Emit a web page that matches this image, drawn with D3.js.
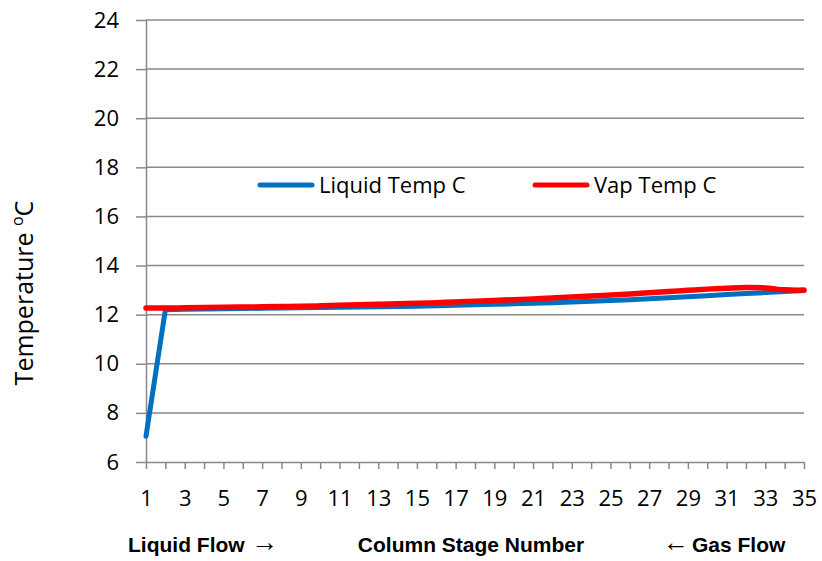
<!DOCTYPE html>
<html>
<head>
<meta charset="utf-8">
<script src="https://cdn.jsdelivr.net/npm/d3@7"></script>
<style>
  html, body { margin: 0; padding: 0; background: #fff; }
  svg { display: block; }
  text { font-family: "Open Sans", "Noto Sans", sans-serif; fill: #000; }
</style>
</head>
<body>
<svg id="chart" width="822" height="561"></svg>
<script>
// Column stage numbers
const stages = d3.range(1, 36);

// Liquid temperature per stage (°C)
const liquidTemp = [
  7.05, 12.2, 12.22, 12.23, 12.24, 12.25, 12.26, 12.27, 12.28, 12.29,
  12.30, 12.31, 12.32, 12.33, 12.34, 12.36, 12.38, 12.40, 12.42, 12.44,
  12.46, 12.49, 12.52, 12.55, 12.58, 12.61, 12.65, 12.69, 12.73, 12.77,
  12.82, 12.86, 12.90, 12.94, 12.98
];

// Vapour temperature per stage (°C)
const vapTemp = [
  12.27, 12.27, 12.28, 12.29, 12.30, 12.31, 12.32, 12.33, 12.34, 12.36,
  12.38, 12.40, 12.42, 12.44, 12.46, 12.49, 12.52, 12.55, 12.58, 12.61,
  12.64, 12.68, 12.72, 12.76, 12.80, 12.84, 12.89, 12.94, 12.99, 13.04,
  13.08, 13.11, 13.09, 13.01, 13.00
];

const yTicks = [6, 8, 10, 12, 14, 16, 18, 20, 22, 24];
const xLabelStages = d3.range(1, 36, 2);

const seriesNames = ["Liquid Temp C", "Vap Temp C"];
const seriesColors = ["#0070C0", "#FF0000"];

const svg = d3.select("#chart");
const plot = { left: 146, right: 804, top: 20, bottom: 462 };

const x = d3.scaleLinear().domain([1, 35]).range([plot.left, plot.right]);
const y = d3.scaleLinear().domain([6, 24]).range([plot.bottom, plot.top]);

const gridColor = "#898989";
const tickFont = '"Open Sans", "Noto Sans", sans-serif';
const narrowBold = '"Liberation Sans Narrow", "Arial Narrow", "Liberation Sans", sans-serif';

// Horizontal gridlines
svg.append("g")
  .selectAll("line")
  .data(yTicks.filter(v => v !== 6))
  .join("line")
  .attr("x1", plot.left).attr("x2", plot.right)
  .attr("y1", d => y(d)).attr("y2", d => y(d))
  .attr("stroke", gridColor).attr("stroke-width", 1.5);

// Y axis
const yAxis = svg.append("g")
  .attr("transform", `translate(${plot.left},0)`)
  .call(d3.axisLeft(y).tickValues(yTicks).tickSize(10).tickPadding(17));
yAxis.select(".domain").attr("stroke", gridColor).attr("stroke-width", 1.5)
  .attr("d", `M0.5,${plot.bottom}V${plot.top}`);
yAxis.selectAll(".tick line").attr("stroke", gridColor).attr("stroke-width", 1.5);
yAxis.selectAll(".tick text")
  .attr("font-size", 22)
  .style("font-family", tickFont);

// X axis: a tick at every stage, labels on odd stages
const xAxis = svg.append("g")
  .attr("transform", `translate(0,${plot.bottom})`)
  .call(d3.axisBottom(x).tickValues(stages).tickSize(7).tickPadding(21)
    .tickFormat(d => (xLabelStages.includes(d) ? d : "")));
xAxis.select(".domain").attr("stroke", gridColor).attr("stroke-width", 1.5)
  .attr("d", `M${plot.left},0.5H${plot.right}`);
xAxis.selectAll(".tick line").attr("stroke", gridColor).attr("stroke-width", 1.5);
xAxis.selectAll(".tick text")
  .attr("font-size", 22)
  .style("font-family", tickFont);

// Series lines
const liquidLine = d3.line()
  .x((d, i) => x(stages[i]))
  .y(d => y(d))
  .curve(d3.curveLinear);

const vapLine = d3.line()
  .x((d, i) => x(stages[i]))
  .y(d => y(d))
  .curve(d3.curveCatmullRom.alpha(0.5));

svg.append("path")
  .datum(liquidTemp)
  .attr("d", liquidLine)
  .attr("fill", "none")
  .attr("stroke", seriesColors[0])
  .attr("stroke-width", 5)
  .attr("stroke-linejoin", "round")
  .attr("stroke-linecap", "round");

svg.append("path")
  .datum(vapTemp)
  .attr("d", vapLine)
  .attr("fill", "none")
  .attr("stroke", seriesColors[1])
  .attr("stroke-width", 5.5)
  .attr("stroke-linejoin", "round")
  .attr("stroke-linecap", "round");

// Legend
const legendItems = [
  { name: seriesNames[0], color: seriesColors[0], x: 260 },
  { name: seriesNames[1], color: seriesColors[1], x: 535 }
];
const lg = svg.append("g").selectAll("g").data(legendItems).join("g")
  .attr("transform", d => `translate(${d.x},185)`);
lg.append("line")
  .attr("x1", 0).attr("x2", 52).attr("y1", 0).attr("y2", 0)
  .attr("stroke", d => d.color).attr("stroke-width", 5)
  .attr("stroke-linecap", "round");
lg.append("text")
  .attr("x", 59).attr("y", 0).attr("dy", "0.35em")
  .attr("font-size", 22)
  .text(d => d.name);

// Y axis title
const yTitle = svg.append("text")
  .attr("transform", "translate(33,293) rotate(-90)")
  .attr("text-anchor", "middle")
  .attr("font-size", 25);
yTitle.append("tspan").text("Temperature ");
yTitle.append("tspan").attr("font-size", 16).attr("dy", -10).text("o");
yTitle.append("tspan").attr("dy", 10).text("C");

// Flow annotations under the axis
const flowLeft = svg.append("text")
  .attr("x", 128).attr("y", 552)
  .attr("font-size", 21).attr("font-weight", "bold")
  .style("font-family", narrowBold);
flowLeft.append("tspan").text("Liquid Flow");
flowLeft.append("tspan")
  .attr("x", 251).attr("font-weight", "normal").attr("font-size", 27)
  .attr("dy", -1)
  .style("font-family", '"Liberation Sans", sans-serif')
  .text("\u2192");

svg.append("text")
  .attr("x", 471).attr("y", 552)
  .attr("text-anchor", "middle")
  .attr("font-size", 21).attr("font-weight", "bold")
  .style("font-family", narrowBold)
  .text("Column Stage Number");

const flowRight = svg.append("text")
  .attr("x", 663).attr("y", 552)
  .attr("font-size", 21).attr("font-weight", "bold")
  .style("font-family", narrowBold);
flowRight.append("tspan")
  .attr("font-weight", "normal").attr("font-size", 26).attr("dy", -1)
  .style("font-family", '"Liberation Sans", sans-serif')
  .text("\u2190");
flowRight.append("tspan").attr("x", 692).attr("dy", 1).text("Gas Flow");
</script>
</body>
</html>
